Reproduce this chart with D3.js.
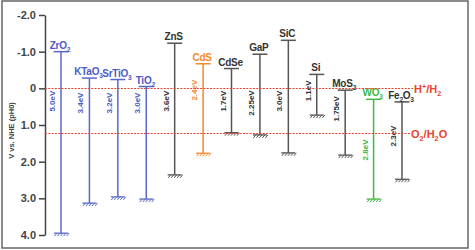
<!DOCTYPE html>
<meta charset="utf-8">
<script src="https://d3js.org/d3.v7.min.js"></script>
<style>
  body { margin: 0; background: #fff; }
  text { font-family: "Liberation Sans", Arial, sans-serif; font-weight: bold; }
</style>
<div id="my_dataviz"></div>
<script>

// band edges (V vs NHE)
var materials = ["ZrO2", "KTaO3", "SrTiO3", "TiO2", "ZnS", "CdS", "CdSe", "GaP", "SiC", "Si", "MoS2", "WO3", "Fe2O3"];
var cbEdge = [-1.0, -0.28, -0.24, -0.05, -1.23, -0.67, -0.54, -0.93, -1.31, -0.38, 0.05, 0.3, 0.37];
var vbEdge = [3.95, 3.13, 2.96, 3.02, 2.36, 1.77, 1.21, 1.27, 1.76, 0.73, 1.82, 3.02, 2.48];
var gapLabels = ["5.0eV", "3.4eV", "3.2eV", "3.0eV", "3.6eV", "2.4eV", "1.7eV", "2.25eV", "3.0eV", "1.1eV", "1.75eV", "2.8eV", "2.3eV"];
var gapLabelAt = [0.35, 0.4, 0.4, 0.4, 0.35, 0.05, 0.35, 0.4, 0.35, 0.07, 0.56, 1.68, 1.3];
var groups = ["blue", "blue", "blue", "blue", "dark", "orange", "dark", "dark", "dark", "dark", "dark", "green", "dark"];

var yTicks = [-2, -1, 0, 1, 2, 3, 4];
var yTickLabels = ["-2.0", "-1.0", "0", "1.0", "2.0", "3.0", "4.0"];
var redoxNames = ["H+/H2", "O2/H2O"];
var redoxLevels = [0, 1.23];

var lineColor = {blue: "#5a68cc", dark: "#555", orange: "#f28a2c", green: "#42b842"};
var textColor = {blue: "#4d5cc4", dark: "#333", orange: "#f28a2c", green: "#42b842"};
var red = "#e8432c";

var W = 475, H = 250;
var svg = d3.select("#my_dataviz").append("svg")
    .attr("width", W).attr("height", H);

svg.append("rect")
    .attr("x", 2).attr("y", 1).attr("width", 466).attr("height", 247)
    .attr("fill", "#fff").attr("stroke", "#666").attr("stroke-width", 1.5);

var y = d3.scaleLinear().domain([-2, 4]).range([15, 235]);
var x = d3.scalePoint().domain(materials).range([61, 402]);

// y axis
var axis = svg.append("g")
    .attr("transform", "translate(45,0)")
    .call(d3.axisLeft(y).tickValues(yTicks).tickSize(6).tickSizeOuter(0)
      .tickFormat(function(d, i) { return yTickLabels[i]; }));
axis.select(".domain").attr("stroke", "#444").attr("stroke-width", 1.5);
axis.selectAll(".tick line").attr("stroke", "#444").attr("stroke-width", 1.5);
axis.selectAll(".tick text").attr("fill", "#444").attr("font-size", 11)
    .attr("font-family", "Liberation Sans, Arial, sans-serif").attr("font-weight", "bold");

svg.append("text")
    .attr("transform", "translate(14," + y(1.15) + ") rotate(-90)")
    .attr("text-anchor", "middle")
    .attr("font-size", 7.5).attr("fill", "#444")
    .text("V vs. NHE (pH0)");

// write a chemical name with digits as subscripts
function chem(sel, name) {
  var parts = name.match(/[0-9]+|\+|[^0-9+]+/g);
  var shift = 0;
  parts.forEach(function(p) {
    var t = sel.append("tspan").text(p);
    if (/[0-9]/.test(p)) {
      t.attr("font-size", "0.66em").attr("dy", 3 - shift); shift = 3;
    } else if (p === "+") {
      t.attr("font-size", "0.66em").attr("dy", -4 - shift); shift = -4;
    } else if (shift !== 0) {
      t.attr("dy", -shift); shift = 0;
    }
  });
}

var data = materials.map(function(m, i) {
  return {name: m, cb: cbEdge[i], vb: vbEdge[i], gap: gapLabels[i], at: gapLabelAt[i], g: groups[i]};
});

var bars = svg.selectAll(".mat").data(data).enter().append("g").attr("class", "mat");

bars.append("line")
    .attr("x1", function(d) { return x(d.name); })
    .attr("x2", function(d) { return x(d.name); })
    .attr("y1", function(d) { return y(d.cb); })
    .attr("y2", function(d) { return y(d.vb); })
    .attr("stroke", function(d) { return lineColor[d.g]; })
    .attr("stroke-width", 1.5);

// conduction band cap
bars.append("line")
    .attr("x1", function(d) { return x(d.name) - 7.5; })
    .attr("x2", function(d) { return x(d.name) + 7.5; })
    .attr("y1", function(d) { return y(d.cb); })
    .attr("y2", function(d) { return y(d.cb); })
    .attr("stroke", function(d) { return lineColor[d.g]; })
    .attr("stroke-width", 1.5);

// ground symbol at valence band
bars.each(function(d) {
  var g = d3.select(this), cx = x(d.name), cy = y(d.vb);
  g.append("line").attr("x1", cx - 7).attr("x2", cx + 7).attr("y1", cy).attr("y2", cy)
    .attr("stroke", lineColor[d.g]).attr("stroke-width", 1.3);
  d3.range(5).forEach(function(k) {
    var hx = cx - 4 + k * 3;
    g.append("line").attr("x1", hx).attr("x2", hx - 2.5).attr("y1", cy).attr("y2", cy + 3)
      .attr("stroke", lineColor[d.g]).attr("stroke-width", 1);
  });
});

bars.append("text")
    .attr("x", function(d) { return x(d.name) - 1; })
    .attr("y", function(d) { return y(d.cb) - 3; })
    .attr("text-anchor", "middle")
    .attr("font-size", 10)
    .attr("letter-spacing", -0.25)
    .attr("fill", function(d) { return textColor[d.g]; })
    .each(function(d) { chem(d3.select(this), d.name); });

bars.append("text")
    .attr("transform", function(d) { return "translate(" + (x(d.name) - 6) + "," + y(d.at) + ") rotate(-90)"; })
    .attr("text-anchor", "middle")
    .attr("font-size", 8)
    .attr("fill", function(d) { return textColor[d.g]; })
    .text(function(d) { return d.gap; });

// redox levels
redoxLevels.forEach(function(v, i) {
  var ly = Math.round(y(v)) + 0.5;
  svg.append("line")
    .attr("x1", 45).attr("x2", i === 0 ? 413 : 410)
    .attr("y1", ly).attr("y2", ly)
    .attr("stroke", red).attr("stroke-width", 1)
    .attr("stroke-dasharray", "2,1.3");
  var t = svg.append("text")
    .attr("x", i === 0 ? 414 : 411).attr("y", ly + 4)
    .attr("font-size", 11).attr("fill", red);
  chem(t, redoxNames[i]);
});

</script>
